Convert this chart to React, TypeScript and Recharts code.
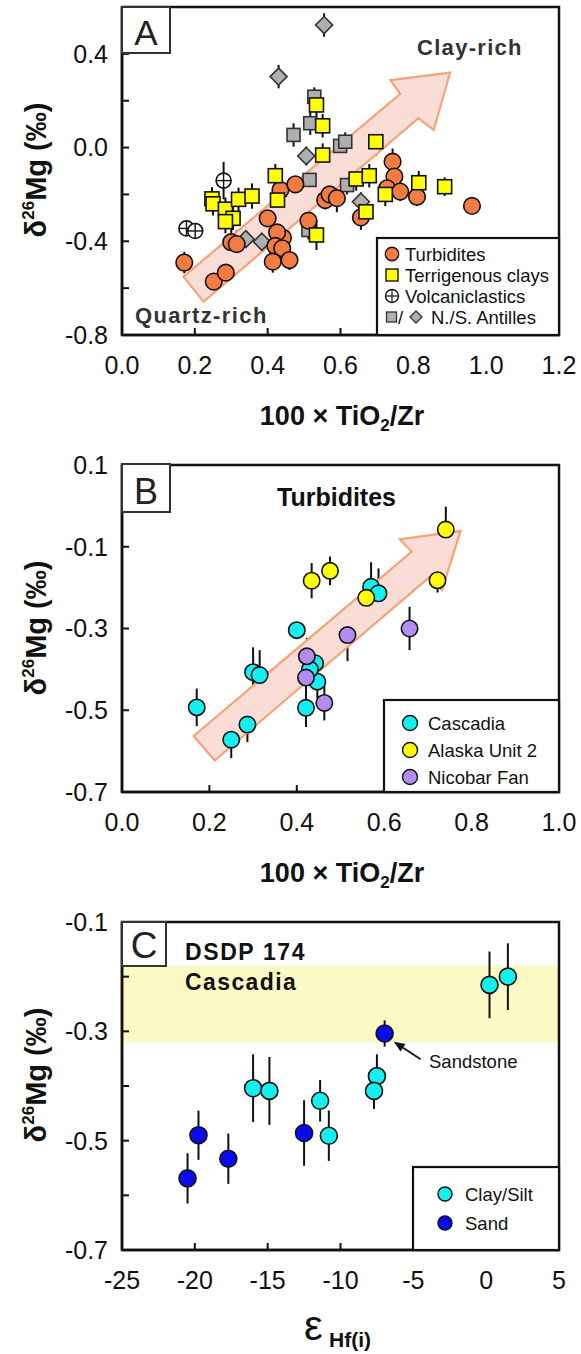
import React from 'react';
import { ScatterChart, Scatter, XAxis, YAxis, ErrorBar, ReferenceArea } from 'recharts';

const FONT = "'Liberation Sans', Arial, Helvetica, sans-serif";

// ---------- Panel A data: [x = 100*TiO2/Zr, y = d26Mg, err] ----------
const turbiditesA: number[][] = [
  [0.171, -0.491, 0.046], [0.252, -0.572, 0.045], [0.285, -0.534, 0.043], [0.300, -0.404, 0.06],
  [0.315, -0.412, 0.06], [0.400, -0.302, 0.03], [0.442, -0.385, 0.04], [0.426, -0.362, 0.045],
  [0.421, -0.420, 0.05], [0.440, -0.430, 0.04], [0.414, -0.487, 0.047], [0.460, -0.480, 0.043],
  [0.435, -0.181, 0.043], [0.476, -0.157, 0.035], [0.512, -0.312, 0.064], [0.558, -0.224, 0.04],
  [0.570, -0.200, 0.05], [0.590, -0.216, 0.06], [0.656, -0.298, 0.053], [0.743, -0.060, 0.056],
  [0.748, -0.124, 0.04], [0.728, -0.174, 0.03], [0.764, -0.188, 0.04], [0.810, -0.210, 0.04],
  [0.961, -0.249, 0.03],
];
const claysA: number[][] = [
  [0.247, -0.219, 0.05], [0.250, -0.240, 0.05], [0.284, -0.263, 0.05], [0.305, -0.302, 0.05],
  [0.284, -0.316, 0.05], [0.320, -0.221, 0.05], [0.357, -0.207, 0.054], [0.421, -0.120, 0.05],
  [0.427, -0.224, 0.05], [0.534, 0.182, 0.05], [0.551, 0.093, 0.05], [0.551, -0.032, 0.05],
  [0.534, -0.373, 0.064], [0.697, 0.025, 0.06], [0.643, -0.134, 0.05], [0.679, -0.120, 0.05],
  [0.723, -0.200, 0.05], [0.670, -0.274, 0.05], [0.815, -0.150, 0.05], [0.886, -0.167, 0.04],
];
const nAntillesA: number[][] = [
  [0.471, 0.054, 0.05], [0.528, 0.217, 0.04], [0.517, 0.104, 0.05], [0.599, 0.007, 0.04],
  [0.613, 0.025, 0.04], [0.515, -0.138, 0.04], [0.618, -0.160, 0.04], [0.512, -0.352, 0.04],
];
const sAntillesA: number[][] = [
  [0.555, 0.523, 0.05], [0.430, 0.303, 0.05], [0.506, -0.036, 0.04], [0.340, -0.391, 0.04],
  [0.384, -0.402, 0.04], [0.656, -0.231, 0.04],
];
const volcanicA: number[][] = [
  [0.279, -0.141, 0.08], [0.177, -0.345, 0.02], [0.201, -0.356, 0.02],
];
const arrowA: number[][] = [
  [0.169, -0.551], [0.764, 0.229], [0.737, 0.288], [0.901, 0.320], [0.856, 0.075], [0.814, 0.125], [0.224, -0.658],
];
const xTicksA = [0, 0.2, 0.4, 0.6, 0.8, 1.0, 1.2];
const xTickLabelsA = ['0.0', '0.2', '0.4', '0.6', '0.8', '1.0', '1.2'];
const yTicksA = [-0.8, -0.6, -0.4, -0.2, 0, 0.2, 0.4, 0.6];
const yTickLabelsA = ['-0.8', '', '-0.4', '', '0.0', '', '0.4', ''];

// ---------- Panel B data ----------
const cascadiaB: number[][] = [
  [0.171, -0.493, 0.046], [0.250, -0.572, 0.045], [0.287, -0.535, 0.043], [0.300, -0.407, 0.061],
  [0.315, -0.414, 0.061], [0.400, -0.304, 0.02], [0.442, -0.385, 0.04], [0.447, -0.430, 0.04],
  [0.421, -0.494, 0.047], [0.430, -0.400, 0.04], [0.570, -0.198, 0.06], [0.587, -0.214, 0.061],
];
const alaskaB: number[][] = [
  [0.434, -0.183, 0.043], [0.476, -0.159, 0.035], [0.559, -0.225, 0.035], [0.722, -0.182, 0.03],
  [0.741, -0.058, 0.056],
];
const nicobarB: number[][] = [
  [0.423, -0.368, 0.045], [0.421, -0.420, 0.045], [0.463, -0.482, 0.043], [0.516, -0.316, 0.064],
  [0.658, -0.300, 0.053],
];
const arrowB: number[][] = [
  [0.164, -0.563], [0.663, -0.112], [0.636, -0.082], [0.775, -0.061], [0.732, -0.206], [0.705, -0.173], [0.212, -0.623],
];
const xTicksB = [0, 0.2, 0.4, 0.6, 0.8, 1.0];
const xTickLabelsB = ['0.0', '0.2', '0.4', '0.6', '0.8', '1.0'];
const yTicksB = [-0.7, -0.5, -0.3, -0.1, 0.1];
const yTickLabelsB = ['-0.7', '-0.5', '-0.3', '-0.1', '0.1'];

// ---------- Panel C data: [x = eHf(i), y = d26Mg, err] ----------
const claySiltC: number[][] = [
  [-16.0, -0.404, 0.062], [-14.88, -0.409, 0.062], [-11.4, -0.427, 0.038], [-10.8, -0.491, 0.046],
  [-7.5, -0.382, 0.04], [-7.7, -0.409, 0.033], [0.23, -0.215, 0.061], [1.49, -0.200, 0.061],
];
const sandC: number[][] = [
  [-20.5, -0.569, 0.046], [-19.75, -0.490, 0.045], [-17.7, -0.533, 0.046], [-12.5, -0.486, 0.06],
  [-6.97, -0.304, 0.024],
];
const bandC = [-0.32, -0.18];
const sandstoneArrowC: number[][] = [[-4.5, -0.351], [-6.34, -0.319]];
const xTicksC = [-25, -20, -15, -10, -5, 0, 5];
const xTickLabelsC = ['-25', '-20', '-15', '-10', '-5', '0', '5'];
const yTicksC = [-0.7, -0.6, -0.5, -0.4, -0.3, -0.2, -0.1];
const yTickLabelsC = ['-0.7', '', '-0.5', '', '-0.3', '', '-0.1'];

// ---------- helpers ----------
const toPts = (arr: number[][]) => arr.map(([x, y, e]) => ({ x, y, e: e ?? 0 }));

const circleShape = (fill: string, r: number) => (p: any) =>
  <circle cx={p.cx} cy={p.cy} r={r} fill={fill} stroke="#111" strokeWidth={1.6} />;
const squareShape = (fill: string, s: number, stroke: string) => (p: any) =>
  <rect x={p.cx - s / 2} y={p.cy - s / 2} width={s} height={s} fill={fill} stroke={stroke} strokeWidth={1.6} />;
const diamondShape = (fill: string, h: number) => (p: any) =>
  <polygon points={`${p.cx},${p.cy - h} ${p.cx + h},${p.cy} ${p.cx},${p.cy + h} ${p.cx - h},${p.cy}`} fill={fill} stroke="#333" strokeWidth={1.6} />;
const plusCircleShape = (r: number) => (p: any) => (
  <g>
    <circle cx={p.cx} cy={p.cy} r={r} fill="#fff" stroke="#111" strokeWidth={1.6} />
    <line x1={p.cx - r} y1={p.cy} x2={p.cx + r} y2={p.cy} stroke="#111" strokeWidth={1.4} />
    <line x1={p.cx} y1={p.cy - r} x2={p.cx} y2={p.cy + r} stroke="#111" strokeWidth={1.4} />
  </g>
);
const hiddenShape = () => <g />;

const polygonLine = (fill: string, stroke: string) => (lp: any) => {
  const pts = lp.points || [];
  if (!pts.length) return <g />;
  const d = pts.map((p: any, i: number) => `${i ? 'L' : 'M'}${p.x},${p.y}`).join(' ') + ' Z';
  return <path d={d} fill={fill} stroke={stroke} strokeWidth={2.2} strokeLinejoin="miter" />;
};

const arrowLine = (lp: any) => {
  const pts = lp.points || [];
  if (pts.length < 2) return <g />;
  const [a, b] = pts;
  const dx = b.x - a.x, dy = b.y - a.y;
  const len = Math.sqrt(dx * dx + dy * dy) || 1;
  const ux = dx / len, uy = dy / len;
  const hl = 11, hw = 4.5;
  const bx = b.x - ux * hl, by = b.y - uy * hl;
  return (
    <g>
      <line x1={a.x} y1={a.y} x2={bx} y2={by} stroke="#111" strokeWidth={1.8} />
      <polygon points={`${b.x},${b.y} ${bx - uy * hw},${by + ux * hw} ${bx + uy * hw},${by - ux * hw}`} fill="#111" />
    </g>
  );
};

const tickStyle = { fill: '#111', fontSize: 25, fontFamily: FONT };
const axisLineStyle = { stroke: '#111', strokeWidth: 2.5 };
const tickLineStyle = { stroke: '#111', strokeWidth: 2 };

const CYAN = '#14EFEF';
const ORANGE = '#F47C42';
const YELLOW = '#FFFF00';
const GREY = '#AFAFAF';
const PURPLE = '#B38CF0';
const BLUE = '#0A0AEE';

function Axes({ xd, yd, xt, xl, yt, yl }: any) {
  return null;
}

function PanelA() {
  return (
    <ScatterChart width={581} height={440} margin={{ top: 7, right: 22, bottom: 45, left: 0 }}>
      <XAxis type="number" dataKey="x" domain={[0, 1.2]} allowDataOverflow ticks={xTicksA} interval={0}
        tickFormatter={(v: any, i: number) => xTickLabelsA[i]} height={60} tickSize={-7} tickMargin={28}
        tick={tickStyle} axisLine={axisLineStyle} tickLine={tickLineStyle} />
      <YAxis type="number" dataKey="y" domain={[-0.8, 0.6]} allowDataOverflow ticks={yTicksA} interval={0}
        tickFormatter={(v: any, i: number) => yTickLabelsA[i]} width={122} tickSize={-7} tickMargin={21}
        tick={tickStyle} axisLine={axisLineStyle} tickLine={tickLineStyle} />
      <Scatter data={toPts(arrowA)} isAnimationActive={false} shape={hiddenShape} line={polygonLine('#FBDDD8', '#F5A478')} lineType="joint" />
      <Scatter data={toPts(nAntillesA)} isAnimationActive={false} shape={squareShape(GREY, 13, '#333')}>
        <ErrorBar dataKey="e" direction="y" width={0} stroke="#111" strokeWidth={2} />
      </Scatter>
      <Scatter data={toPts(sAntillesA)} isAnimationActive={false} shape={diamondShape(GREY, 8.5)}>
        <ErrorBar dataKey="e" direction="y" width={0} stroke="#111" strokeWidth={2} />
      </Scatter>
      <Scatter data={toPts(volcanicA)} isAnimationActive={false} shape={plusCircleShape(7.5)}>
        <ErrorBar dataKey="e" direction="y" width={0} stroke="#111" strokeWidth={2} />
      </Scatter>
      <Scatter data={toPts(turbiditesA)} isAnimationActive={false} shape={circleShape(ORANGE, 8.3)}>
        <ErrorBar dataKey="e" direction="y" width={0} stroke="#111" strokeWidth={2} />
      </Scatter>
      <Scatter data={toPts(claysA)} isAnimationActive={false} shape={squareShape(YELLOW, 14, '#111')}>
        <ErrorBar dataKey="e" direction="y" width={0} stroke="#111" strokeWidth={2} />
      </Scatter>
      <ReferenceArea x1={0} x2={1.2} y1={-0.8} y2={0.6} fill="none" stroke="#111" strokeWidth={2.5} ifOverflow="visible" />
    </ScatterChart>
  );
}

function PanelB() {
  return (
    <ScatterChart width={581} height={445} margin={{ top: 25, right: 22, bottom: 33, left: 0 }}>
      <XAxis type="number" dataKey="x" domain={[0, 1.0]} allowDataOverflow ticks={xTicksB} interval={0}
        tickFormatter={(v: any, i: number) => xTickLabelsB[i]} height={60} tickSize={-7} tickMargin={28}
        tick={tickStyle} axisLine={axisLineStyle} tickLine={tickLineStyle} />
      <YAxis type="number" dataKey="y" domain={[-0.7, 0.1]} allowDataOverflow ticks={yTicksB} interval={0}
        tickFormatter={(v: any, i: number) => yTickLabelsB[i]} width={122} tickSize={-7} tickMargin={21}
        tick={tickStyle} axisLine={axisLineStyle} tickLine={tickLineStyle} />
      <Scatter data={toPts(arrowB)} isAnimationActive={false} shape={hiddenShape} line={polygonLine('#FBDDD8', '#F5A478')} lineType="joint" />
      <Scatter data={toPts(cascadiaB)} isAnimationActive={false} shape={circleShape(CYAN, 8.2)}>
        <ErrorBar dataKey="e" direction="y" width={0} stroke="#111" strokeWidth={2} />
      </Scatter>
      <Scatter data={toPts(alaskaB)} isAnimationActive={false} shape={circleShape(YELLOW, 8.2)}>
        <ErrorBar dataKey="e" direction="y" width={0} stroke="#111" strokeWidth={2} />
      </Scatter>
      <Scatter data={toPts(nicobarB)} isAnimationActive={false} shape={circleShape(PURPLE, 8.2)}>
        <ErrorBar dataKey="e" direction="y" width={0} stroke="#111" strokeWidth={2} />
      </Scatter>
      <ReferenceArea x1={0} x2={1.0} y1={-0.7} y2={0.1} fill="none" stroke="#111" strokeWidth={2.5} ifOverflow="visible" />
    </ScatterChart>
  );
}

function PanelC() {
  return (
    <ScatterChart width={581} height={469} margin={{ top: 37, right: 22, bottom: 44, left: 0 }}>
      <XAxis type="number" dataKey="x" domain={[-25, 5]} allowDataOverflow ticks={xTicksC} interval={0}
        tickFormatter={(v: any, i: number) => xTickLabelsC[i]} height={60} tickSize={-7} tickMargin={28}
        tick={tickStyle} axisLine={axisLineStyle} tickLine={tickLineStyle} />
      <YAxis type="number" dataKey="y" domain={[-0.7, -0.1]} allowDataOverflow ticks={yTicksC} interval={0}
        tickFormatter={(v: any, i: number) => yTickLabelsC[i]} width={122} tickSize={-7} tickMargin={21}
        tick={tickStyle} axisLine={axisLineStyle} tickLine={tickLineStyle} />
      <ReferenceArea x1={-25} x2={5} y1={bandC[0]} y2={bandC[1]} fill="#FCF9C4" fillOpacity={1} stroke="none" />
      <Scatter data={toPts(sandstoneArrowC)} isAnimationActive={false} shape={hiddenShape} line={arrowLine} lineType="joint" />
      <Scatter data={toPts(claySiltC)} isAnimationActive={false} shape={circleShape(CYAN, 8.5)}>
        <ErrorBar dataKey="e" direction="y" width={0} stroke="#111" strokeWidth={2} />
      </Scatter>
      <Scatter data={toPts(sandC)} isAnimationActive={false} shape={circleShape(BLUE, 8.5)}>
        <ErrorBar dataKey="e" direction="y" width={0} stroke="#111" strokeWidth={2} />
      </Scatter>
      <ReferenceArea x1={-25} x2={5} y1={-0.7} y2={-0.1} fill="none" stroke="#111" strokeWidth={2.5} ifOverflow="visible" />
    </ScatterChart>
  );
}

function YLabel({ x, y }: { x: number; y: number }) {
  return (
    <text transform={`translate(${x},${y}) rotate(-90)`} textAnchor="middle" fontWeight="bold" fontSize={29} fill="#111" fontFamily={FONT}>
      δ<tspan fontSize={17} dy={-12}>26</tspan><tspan dy={12}>Mg (‰)</tspan>
    </text>
  );
}

function XTitleTi({ y }: { y: number }) {
  return (
    <text x={342} y={y} textAnchor="middle" fontWeight="bold" fontSize={27} fill="#111" fontFamily={FONT}>
      100 × TiO<tspan fontSize={17} dy={6}>2</tspan><tspan dy={-6}>/Zr</tspan>
    </text>
  );
}

function PanelLetter({ x, y, w, h, letter, fs }: any) {
  return (
    <g>
      <rect x={x} y={y} width={w} height={h} fill="#fff" stroke="#333" strokeWidth={2} />
      <text x={x + w / 2} y={y + h - 8} textAnchor="middle" fontSize={fs} fill="#222" fontFamily={FONT}>{letter}</text>
    </g>
  );
}

function Overlay() {
  const lt = { fontSize: 18.5, fill: '#111', fontFamily: FONT };
  return (
    <svg width={581} height={1354} style={{ position: 'absolute', left: 0, top: 0, pointerEvents: 'none' }}>
      {/* Panel A */}
      <PanelLetter x={122} y={7} w={48} h={46} letter="A" fs={35} />
      <text x={417} y={55} fontWeight="bold" fontSize={22} letterSpacing={1.3} fill="#333" fontFamily={FONT}>Clay-rich</text>
      <text x={135} y={323} fontWeight="bold" fontSize={22} letterSpacing={1.4} fill="#333" fontFamily={FONT}>Quartz-rich</text>
      <rect x={377} y={238} width={182} height={97} fill="#fff" stroke="#111" strokeWidth={2.2} />
      <circle cx={392} cy={254} r={6.7} fill={ORANGE} stroke="#111" strokeWidth={1.4} />
      <text x={405} y={260.5} {...lt}>Turbidites</text>
      <rect x={386} y={269} width={12} height={12} fill={YELLOW} stroke="#111" strokeWidth={1.4} />
      <text x={405} y={281.5} {...lt}>Terrigenous clays</text>
      <circle cx={392} cy={296} r={6.5} fill="#fff" stroke="#111" strokeWidth={1.4} />
      <line x1={385.5} y1={296} x2={398.5} y2={296} stroke="#111" strokeWidth={1.2} />
      <line x1={392} y1={289.5} x2={392} y2={302.5} stroke="#111" strokeWidth={1.2} />
      <text x={405} y={302.5} {...lt}>Volcaniclastics</text>
      <rect x={386.5} y={312} width={10} height={10} fill={GREY} stroke="#333" strokeWidth={1.3} />
      <text x={398} y={323.5} {...lt}>/</text>
      <polygon points="416,311 422,317 416,323 410,317" fill={GREY} stroke="#333" strokeWidth={1.3} />
      <text x={431} y={323.5} {...lt}>N./S. Antilles</text>
      <YLabel x={46} y={170} />
      <XTitleTi y={425} />

      {/* Panel B */}
      <PanelLetter x={122} y={464} w={48} h={48} letter="B" fs={36} />
      <text x={277} y={506} fontWeight="bold" fontSize={25} fill="#111" fontFamily={FONT}>Turbidites</text>
      <rect x={384} y={700} width={175} height={92} fill="#fff" stroke="#111" strokeWidth={2.2} />
      <circle cx={410} cy={723} r={7.5} fill={CYAN} stroke="#111" strokeWidth={1.4} />
      <text x={428} y={729.5} {...lt}>Cascadia</text>
      <circle cx={410} cy={750} r={7.5} fill={YELLOW} stroke="#111" strokeWidth={1.4} />
      <text x={428} y={756.5} {...lt}>Alaska Unit 2</text>
      <circle cx={410} cy={777} r={7.5} fill={PURPLE} stroke="#111" strokeWidth={1.4} />
      <text x={428} y={783.5} {...lt}>Nicobar Fan</text>
      <YLabel x={46} y={628} />
      <XTitleTi y={882} />

      {/* Panel C */}
      <PanelLetter x={122} y={922} w={44} h={44} letter="C" fs={37} />
      <text x={185} y={960} fontWeight="bold" fontSize={23} letterSpacing={1.6} fill="#111" fontFamily={FONT}>DSDP 174</text>
      <text x={185} y={990} fontWeight="bold" fontSize={23} letterSpacing={1.4} fill="#111" fontFamily={FONT}>Cascadia</text>
      <text x={429} y={1068} fontSize={18.5} fill="#111" fontFamily={FONT}>Sandstone</text>
      <rect x={413} y={1167} width={146} height={83} fill="#fff" stroke="#111" strokeWidth={2.2} />
      <circle cx={445} cy={1194} r={7} fill={CYAN} stroke="#111" strokeWidth={1.4} />
      <text x={465} y={1200.5} {...lt}>Clay/Silt</text>
      <circle cx={445} cy={1223} r={7} fill={BLUE} stroke="#111" strokeWidth={1.4} />
      <text x={465} y={1229.5} {...lt}>Sand</text>
      <YLabel x={46} y={1075} />
      <text x={304} y={1340} fontSize={42} fill="#111" fontFamily={FONT}>ε</text>
      <text x={329} y={1347} fontSize={21} fontWeight="bold" fill="#111" fontFamily={FONT}>Hf(i)</text>
    </svg>
  );
}

export default function App() {
  return (
    <div style={{ position: 'absolute', left: 0, top: 0, width: 581, height: 1354, background: '#fff', fontFamily: FONT }}>
      <div style={{ position: 'absolute', left: 0, top: 0 }}><PanelA /></div>
      <div style={{ position: 'absolute', left: 0, top: 440 }}><PanelB /></div>
      <div style={{ position: 'absolute', left: 0, top: 885 }}><PanelC /></div>
      <Overlay />
    </div>
  );
}
